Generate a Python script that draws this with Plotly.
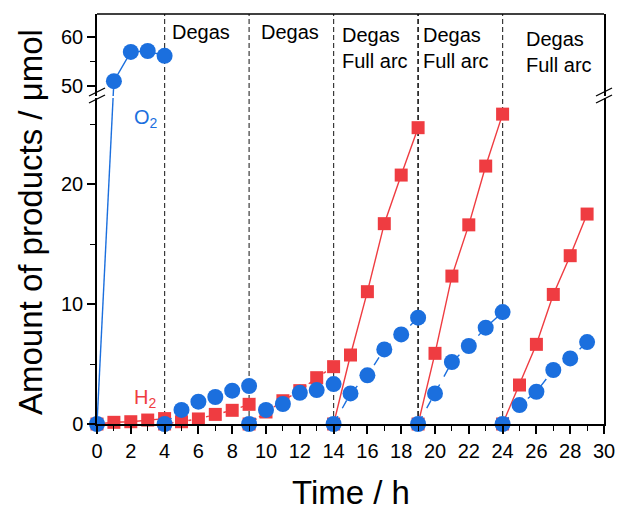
import plotly.graph_objects as go

# ---------------- data ----------------
seg_start = [0, 4, 9, 14, 19, 24]          # start hour of each run
seg_hours = [[0, 1, 2, 3, 4],
             [4, 5, 6, 7, 8, 9],
             [9, 10, 11, 12, 13, 14],
             [14, 15, 16, 17, 18, 19],
             [19, 20, 21, 22, 23, 24],
             [24, 25, 26, 27, 28, 29]]
h2_vals = [[0, 0.14, 0.19, 0.33, 0.45],
           [0, 0.19, 0.42, 0.80, 1.14, 1.64],
           [0, 1.00, 1.94, 2.78, 3.86, 4.78],
           [0, 5.75, 11.03, 16.7, 20.75, 24.7],
           [0, 5.89, 12.33, 16.6, 21.5, 25.83],
           [0, 3.25, 6.64, 10.8, 14.03, 17.5]]
o2_vals = [[0, 51.0, 57.0, 57.2, 56.2],
           [0, 1.17, 1.86, 2.25, 2.78, 3.17],
           [0, 1.17, 1.67, 2.60, 2.83, 3.33],
           [0, 2.55, 4.06, 6.22, 7.47, 8.86],
           [0, 2.55, 5.17, 6.50, 8.03, 9.33],
           [0, 1.58, 2.69, 4.50, 5.47, 6.83]]
dividers = [4, 9, 14, 19, 24]
notes = ["Degas", "Degas", "Degas<br>Full arc", "Degas<br>Full arc", "Degas<br>Full arc"]
note_x = [4.3, 9.6, 14.4, 19.2, 25.25]
note_y = [0.957, 0.957, 0.917, 0.917, 0.907]

# ---------------- styling ----------------
BLUE = "#1B6FDE"
RED = "#EF3C41"
FONT = "Arial, Liberation Sans, sans-serif"
W, H = 617, 507
ML, MR, MT, MB = 97, 13, 14, 83
PW, PH = W - ML - MR, H - MT - MB

lo_dom, hi_dom = [0, 0.795], [0.8, 1.0]
lo_rng, hi_rng = [0, 27.17], [47.95, 64.8]
BREAK = 40  # values above this live on the upper (broken) axis

def to_paper(v, upper):
    d, r = (hi_dom, hi_rng) if upper else (lo_dom, lo_rng)
    return d[0] + (v - r[0]) / (r[1] - r[0]) * (d[1] - d[0])

def from_paper(p, upper):
    d, r = (hi_dom, hi_rng) if upper else (lo_dom, lo_rng)
    return r[0] + (p - d[0]) / (d[1] - d[0]) * (r[1] - r[0])

red_dash = ["solid", "dot", "dot", "solid", "solid", "solid"]
blue_dash = ["solid", "dash", "dash", "dash", "dash", "dash"]

fig = go.Figure()

# H2 (red squares) - drawn first so circles sit on top
for i, (t, v) in enumerate(zip(seg_hours, h2_vals)):
    fig.add_trace(go.Scatter(x=t, y=v, mode="lines", yaxis="y",
                             line=dict(color=RED, width=1.4, dash=red_dash[i]),
                             showlegend=False, hoverinfo="skip"))
    fig.add_trace(go.Scatter(x=t, y=v, mode="markers", yaxis="y", cliponaxis=False,
                             marker=dict(symbol="square", size=13, color=RED,
                                         line=dict(width=0)),
                             showlegend=False))

# O2 (blue circles)
for i, (t, v) in enumerate(zip(seg_hours, o2_vals)):
    lo_t = [a for a, b in zip(t, v) if b < BREAK]
    lo_v = [b for b in v if b < BREAK]
    hi_t = [a for a, b in zip(t, v) if b >= BREAK]
    hi_v = [b for b in v if b >= BREAK]
    ln = dict(color=BLUE, width=1.4, dash=blue_dash[i])
    if hi_t:
        # connecting segment that crosses the axis break
        p0, p1 = to_paper(lo_v[-1], False), to_paper(hi_v[0], True)
        fig.add_trace(go.Scatter(x=[lo_t[-1], hi_t[0]], y=[lo_v[-1], from_paper(p1, False)],
                                 mode="lines", yaxis="y", line=ln,
                                 showlegend=False, hoverinfo="skip"))
        fig.add_trace(go.Scatter(x=[lo_t[-1], hi_t[0]], y=[from_paper(p0, True), hi_v[0]],
                                 mode="lines", yaxis="y2", line=ln,
                                 showlegend=False, hoverinfo="skip"))
        fig.add_trace(go.Scatter(x=hi_t, y=hi_v, mode="lines+markers", yaxis="y2",
                                 cliponaxis=False, line=ln,
                                 marker=dict(size=16, color=BLUE, line=dict(width=0)),
                                 showlegend=False))
    if lo_t:
        fig.add_trace(go.Scatter(x=lo_t, y=lo_v, mode="lines", yaxis="y", line=ln,
                                 showlegend=False, hoverinfo="skip"))
        fig.add_trace(go.Scatter(x=lo_t, y=lo_v, mode="markers", yaxis="y", cliponaxis=False,
                                 marker=dict(size=16, color=BLUE, line=dict(width=0)),
                                 showlegend=False))

shapes = []
for d in dividers:
    shapes.append(dict(type="line", xref="x", yref="paper", x0=d, x1=d, y0=0, y1=1,
                       line=dict(color="#222" if d == 19 else "#3a3a3a",
                                 width=1.7 if d == 19 else 1.2, dash="5px,3px"),
                       layer="below"))
# top frame line
shapes.append(dict(type="line", xref="paper", yref="paper", x0=0, x1=1, y0=1, y1=1,
                   line=dict(color="black", width=1.5)))
# axis-break marks
for xp in (0, 1):
    for cy in (92, 99):
        yc = (H - MB - cy) / PH
        shapes.append(dict(type="line", xref="paper", yref="paper",
                           x0=xp - 8 / PW, x1=xp + 8 / PW,
                           y0=yc - 4 / PH, y1=yc + 4 / PH,
                           line=dict(color="black", width=1.3)))

annotations = []
for txt, x, y in zip(notes, note_x, note_y):
    annotations.append(dict(text=txt, x=x, y=y, xref="x", yref="paper",
                            xanchor="left", yanchor="middle", align="left",
                            showarrow=False, font=dict(family=FONT, size=20, color="black")))
annotations.append(dict(text="O<sub>2</sub>", x=2.9, y=(H - MB - 118) / PH,
                        xref="x", yref="paper", showarrow=False,
                        xanchor="center", yanchor="middle",
                        font=dict(family=FONT, size=20, color=BLUE)))
annotations.append(dict(text="H<sub>2</sub>", x=2.85, y=(H - MB - 398) / PH,
                        xref="x", yref="paper", showarrow=False,
                        xanchor="center", yanchor="middle",
                        font=dict(family=FONT, size=20, color=RED)))
annotations.append(dict(text="Amount of products / μmol", x=(30 - ML) / PW,
                        y=(H - MB - 222) / PH, xref="paper", yref="paper",
                        textangle=-90, showarrow=False, xanchor="center", yanchor="middle",
                        font=dict(family=FONT, size=33, color="black")))
annotations.append(dict(text="Time / h", x=0.5, y=(H - MB - 472) / PH,
                        xref="paper", yref="paper", showarrow=False,
                        xanchor="center", yanchor="top",
                        font=dict(family=FONT, size=33, color="black")))

axis_common = dict(showline=True, linecolor="black", linewidth=1.5, ticks="outside",
                   ticklen=8, tickwidth=1.5, tickcolor="black", showgrid=False,
                   zeroline=False, automargin=False,
                   tickfont=dict(family=FONT, size=20, color="black"))

fig.update_layout(
    width=W, height=H, margin=dict(l=ML, r=MR, t=MT, b=MB, autoexpand=False),
    paper_bgcolor="white", plot_bgcolor="white",
    xaxis=dict(range=[0, 30], dtick=2, tick0=0, anchor="y",
               minor=dict(dtick=1, ticklen=5, tickwidth=1.3, tickcolor="black", ticks="outside"),
               **axis_common),
    yaxis=dict(domain=lo_dom, range=lo_rng, dtick=10, tick0=0, mirror=True,
               minor=dict(dtick=5, ticklen=5, tickwidth=1.3, tickcolor="black", ticks="outside"),
               **axis_common),
    yaxis2=dict(domain=hi_dom, range=hi_rng, dtick=10, tick0=0, mirror=True, anchor="x",
                minor=dict(dtick=5, ticklen=5, tickwidth=1.3, tickcolor="black", ticks="outside"),
                **axis_common),
    shapes=shapes, annotations=annotations, showlegend=False,
)

fig.write_html("out.html")
